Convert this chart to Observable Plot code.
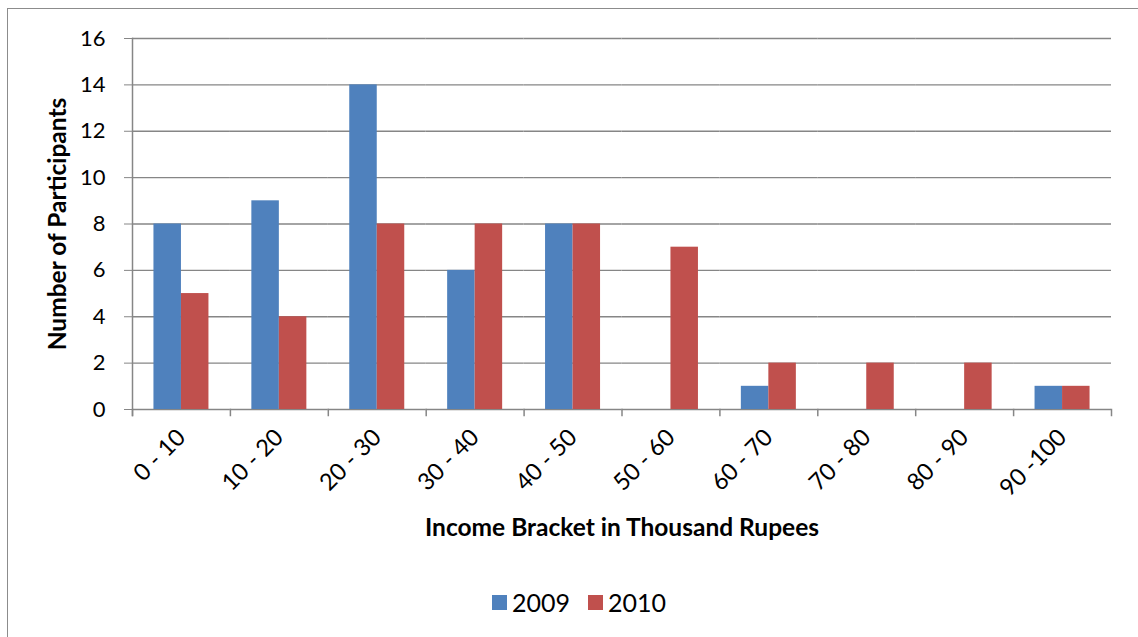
<!DOCTYPE html>
<html>
<head>
<meta charset="utf-8">
<script src="https://cdn.jsdelivr.net/npm/d3@7"></script>
<script src="https://cdn.jsdelivr.net/npm/@observablehq/plot@0.6"></script>
<style>
  html, body { margin: 0; padding: 0; background: #fff; }
  #wrap { position: relative; width: 1138px; height: 637px; overflow: hidden; font-family: Lato, "Open Sans", sans-serif; }
  #border { position: absolute; left: 7px; top: 8px; width: 1200px; height: 700px; border: 1px solid #8c8c8c; box-sizing: border-box; }
  #chart { position: absolute; left: 0; top: 0; }
  #legend { position: absolute; top: 587px; left: 0; width: 1138px; display: flex; justify-content: center; gap: 18px; font-size: 25px; color: #000; padding-left: 20px; box-sizing: border-box; }
  #legend .item { display: flex; align-items: center; gap: 5px; }
  #legend .sw { width: 15px; height: 15px; display: inline-block; }
</style>
</head>
<body>
<div id="wrap">
  <div id="border"></div>
  <div id="chart"></div>
  <div id="legend"></div>
</div>
<script>
const categories = ["0 - 10","10 - 20","20 - 30","30 - 40","40 - 50","50 - 60","60 - 70","70 - 80","80 - 90","90 -100"];
const series = ["2009","2010"];
const values2009 = [8,9,14,6,8,0,1,0,0,1];
const values2010 = [5,4,8,8,8,7,2,2,2,1];
const colors = ["#4F81BD","#C0504D"];
const yTicks = [0,2,4,6,8,10,12,14,16];

const data = [];
categories.forEach((c, i) => {
  data.push({category: c, year: series[0], value: values2009[i]});
  data.push({category: c, year: series[1], value: values2010[i]});
});

const W = 1138, H = 560;
const mTop = 38, mBottom = H - 409, mLeft = 132, mRight = W - 1111;
const plotH = H - mTop - mBottom;
const gray = "#868686";

const chart = Plot.plot({
  width: W,
  height: H,
  marginTop: mTop,
  marginBottom: mBottom,
  marginLeft: mLeft,
  marginRight: mRight,
  style: {fontFamily: "Lato, 'Open Sans', sans-serif", fontSize: "22px", color: "#000", background: "transparent"},
  fx: {domain: categories, paddingInner: 0, paddingOuter: 0, round: false},
  x: {domain: series, paddingInner: 0, paddingOuter: 0.78, round: false, axis: null},
  y: {domain: [0, 16]},
  color: {domain: series, range: colors},
  marks: [
    Plot.ruleY(yTicks, {stroke: gray, strokeWidth: 1.3}),
    Plot.barY(data, {fx: "category", x: "year", y: "value", fill: "year"}),
    Plot.frame({anchor: "left", insetTop: plotH, insetBottom: -6, stroke: gray, strokeWidth: 1.5}),
    Plot.frame({anchor: "left", facet: "super", insetBottom: -6, stroke: gray, strokeWidth: 1.5}),
    Plot.frame({anchor: "right", facet: "super", insetTop: plotH, insetBottom: -6, stroke: gray, strokeWidth: 1.5}),
    Plot.axisY({ticks: yTicks, tickSize: 8, tickPadding: 19, stroke: gray, fontSize: 22,
      label: "Number of Participants", labelAnchor: "center", labelArrow: "none", labelOffset: 84}),
    Plot.axisFx({anchor: "bottom", tickSize: 0, tickRotate: -45, tickPadding: 24, fontSize: 23.5,
      label: "Income Bracket in Thousand Rupees", labelAnchor: "center", labelArrow: "none", labelOffset: 126})
  ]
});
document.getElementById("chart").appendChild(chart);

// bold, slightly larger axis titles
chart.querySelectorAll("[aria-label='y-axis label'], [aria-label='fx-axis label']").forEach(el => {
  el.setAttribute("font-weight", "bold");
  el.setAttribute("font-size", "24.5");
  el.querySelectorAll("text").forEach(t => t.setAttribute("font-size", "24.5"));
});

const legend = document.getElementById("legend");
series.forEach((s, i) => {
  const item = document.createElement("div");
  item.className = "item";
  const sw = document.createElement("span");
  sw.className = "sw";
  sw.style.background = colors[i];
  const t = document.createElement("span");
  t.textContent = s;
  item.appendChild(sw);
  item.appendChild(t);
  legend.appendChild(item);
});
</script>
</body>
</html>
